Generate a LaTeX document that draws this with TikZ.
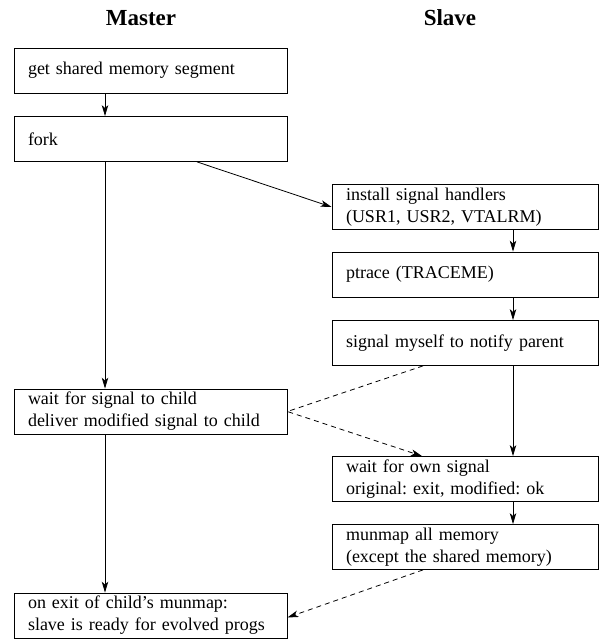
\documentclass[tikz,border=0pt]{standalone}
\usepackage{fontspec}
\setmainfont{Liberation Serif}
\usetikzlibrary{arrows.meta}
\frenchspacing
\tikzset{
  stepbox/.style={draw, line width=0.8pt, rectangle, minimum height=45pt,
    inner xsep=14pt, inner ysep=0pt, align=left,
    font=\fontsize{18}{22}\selectfont},
  mbox/.style={stepbox, minimum width=273pt, text width=245pt},
  sbox/.style={stepbox, minimum width=266pt, text width=238pt},
  arr/.style={line width=0.8pt, -{Stealth[length=11pt,width=6.5pt,inset=3pt]}},
  darr/.style={arr, dash pattern=on 5pt off 4pt},
  title/.style={font=\fontsize{23}{27}\selectfont\bfseries}
}
\begin{document}
\begin{tikzpicture}[x=1pt,y=-1pt]
\useasboundingbox (0,0) rectangle (599,639);
\coordinate (mx) at (105,0);
\coordinate (sx) at (513,0);
\node[title] (tm) at (141,18) {Master};
\node[title] (ts) at (450,18) {Slave};
\node[mbox] (box1) at (150.5,70.5) {get shared memory segment};
\node[mbox] (fork) at (150.5,139) {fork};
\node[sbox] (install) at (465,207) {install signal handlers\\(USR1, USR2, VTALRM)};
\node[sbox] (ptrace) at (465,274.5) {ptrace (TRACEME)};
\node[sbox] (signal) at (465,343) {signal myself to notify parent};
\node[mbox] (waitm) at (150.5,411.5) {wait for signal to child\\deliver modified signal to child};
\node[sbox] (waits) at (465,479) {wait for own signal\\original: exit, modified: ok};
\node[sbox] (munmap) at (465,547) {munmap all memory\\(except the shared memory)};
\node[mbox] (final) at (150.5,615.5) {on exit of child's munmap:\\slave is ready for evolved progs};
\draw[arr] (box1.south -| mx) -- (fork.north -| mx);
\draw[arr] (fork.south -| mx) -- (waitm.north -| mx);
\draw[arr] (waitm.south -| mx) -- (final.north -| mx);
\draw[arr] ([xshift=46.5pt]fork.south) -- (install.west);
\draw[arr] (install.south -| sx) -- (ptrace.north -| sx);
\draw[arr] (ptrace.south -| sx) -- (signal.north -| sx);
\draw[arr] (signal.south -| sx) -- (waits.north -| sx);
\draw[arr] (waits.south -| sx) -- (munmap.north -| sx);
\draw[darr] ([xshift=-42pt]signal.south) -- (waitm.east) -- ([xshift=-43pt]waits.north);
\draw[darr] ([xshift=-42pt]munmap.south) -- ([yshift=-2pt]final.east);
\end{tikzpicture}
\end{document}
